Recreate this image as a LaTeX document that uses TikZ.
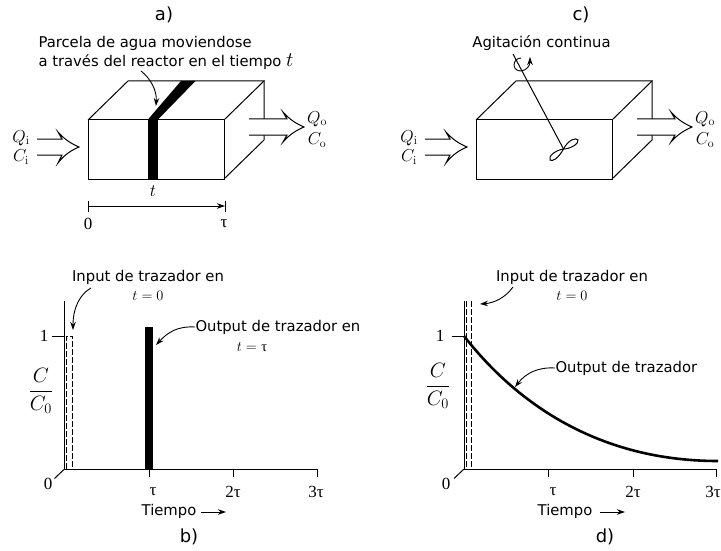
\documentclass[tikz,border=0pt]{standalone}
\usepackage{amsmath}
\usepackage[no-math]{fontspec}
\setmainfont{DejaVu Sans}
\newfontfamily\taufont{Liberation Serif}
\usepackage{tikz}
\usetikzlibrary{arrows.meta,positioning}
\newcommand{\tauup}{{\taufont τ}}
\begin{document}
\begin{tikzpicture}[x=1pt,y=-1pt,
line width=1pt,
lbl/.style={font=\fontsize{14.8}{19}\selectfont,inner sep=0pt,align=center},
mth/.style={font=\fontsize{17.28}{19}\selectfont,inner sep=0pt},
eqn/.style={font=\fontsize{14.4}{19}\selectfont,inner sep=0pt},
num/.style={font=\taufont\fontsize{17}{19}\selectfont,inner sep=0pt},
panel/.style={font=\fontsize{18}{20}\selectfont,inner sep=0pt},
ratio/.style={font=\fontsize{20.74}{24}\selectfont,inner sep=0pt},
arr/.style={-{Stealth[length=8pt,width=5.5pt]},line width=0.9pt},
flow/.style={draw,fill=white,line join=miter}
]
\useasboundingbox (0,0) rectangle (721,551);
\node[panel] (la) at (164,15) {a)};
\node[panel] (lb) at (189,537) {b)};
\node[panel] (lc) at (581,15) {c)};
\node[panel] (ld) at (605,537) {d)};
% reactor boxes
\foreach \dx/\nm in {0/a,388/c}{
\begin{scope}[xshift=\dx pt]
\draw (88,120) rectangle (224,179);
\draw (88,120) -- (128,81) -- (264,81) -- (224,120);
\draw (264,81) -- (264,140) -- (224,179);
\draw[flow] (249,119) -- (287,119) -- (283,112) .. controls (290,120) and (297,124) .. (304,127) .. controls (297,130) and (290,134) .. (283,142) -- (287,135) -- (249,135);
\draw[flow] (37,139) -- (62,139) -- (58,132) .. controls (65,140) and (72,144) .. (79,147) .. controls (72,150) and (65,154) .. (58,163) -- (62,155) -- (37,155);
\node[mth] (Qi\nm) at (21,138) {$Q_{\mathrm{i}}$};
\node[mth] (Ci\nm) at (21,157) {$C_{\mathrm{i}}$};
\node[mth] (Qo\nm) at (317,119) {$Q_{\mathrm{o}}$};
\node[mth] (Co\nm) at (317,140) {$C_{\mathrm{o}}$};
\end{scope}
}
% plug of water
\fill (147.5,120) -- (157.5,120) -- (195.5,81) -- (181,81) -- cycle;
\fill (147.5,120) rectangle (157.5,179);
\node[lbl,align=left,anchor=west] (parcela) at (38,52.5) {Parcela de agua moviendose\\a través del reactor en el tiempo {\fontsize{20.74}{19}\selectfont$t$}};
\coordinate (pfrom) at (141,71);
\coordinate (pto) at (156,106);
\draw[arr] (pfrom) .. controls (150,78) and (157,90) .. (pto);
\node[mth] (tt) at (153,191) {$t$};
\coordinate (s0) at (88,206);
\coordinate (s1) at (225,206);
\draw[arr] (s0) -- (s1);
\draw (88,200.5) -- (88,212);
\draw (225,200.5) -- (225,212);
\node[num] (s0l) at (88,224) {0};
\node[num] (s1l) at (224,224) {τ};
% stirrer
\node[lbl] (agit) at (541.5,43) {Agitación continua};
\coordinate (sh0) at (513,54);
\coordinate (sh1) at (563.5,149);
\draw (sh0) -- (sh1);
\draw (sh1) .. controls (568,140) and (576,137) .. (578,140) .. controls (579,144) and (570,149) .. (sh1);
\draw (sh1) .. controls (558,159) and (552,162) .. (550,160) .. controls (548,156) and (556,150) .. (sh1);
\draw[arr] (521,58) .. controls (513,58) and (511,70) .. (520,71) .. controls (527,71) and (530,65) .. (530,57);
% axes of both plots
\foreach \ox/\nm/\tx/\tb/\tc/\lone/\lzero in {64.5/b/153/233/316/44/48,464/d/553/633/713/440/446}{
\begin{scope}[xshift=\ox pt]
\draw (0,301) -- (0,469) -- (252.5,469);
\draw (-10,478.5) -- (0,469);
\draw (-12.5,336) -- (0,336);
\end{scope}
\node[num] (one\nm) at (\lone,336) {1};
\node[num] (zero\nm) at (\lzero,484) {0};
\node[num] (tau\nm) at (\tx,492) {τ};
\node[num] (twotau\nm) at (\tb,492) {2τ};
\node[num] (threetau\nm) at (\tc,492) {3τ};
}
\foreach \x in {149,233,317,548,633,716}{\draw (\x,469) -- (\x,477);}
\node[ratio] (ratiob) at (41,391) {$\dfrac{C}{C_0}$};
\node[ratio] (ratiod) at (438,386) {$\dfrac{C}{C_0}$};
\node[lbl] (tiempob) at (169,511.5) {Tiempo};
\draw[arr] (201,512) -- (226,512);
\node[lbl] (tiempod) at (565,511) {Tiempo};
\draw[arr] (600,512) -- (625,512);
% plot b
\draw[dashed,dash pattern=on 6pt off 2pt] (66.5,469) -- (66.5,336) -- (72.5,336) -- (72.5,469);
\fill (145,327) rectangle (152.5,469);
\node[lbl] (inb) at (148,285) {Input de trazador en\\{\fontsize{14.4}{19}\selectfont$t=0$}};
\coordinate (ibf) at (91,288);
\coordinate (ibt) at (73,330);
\draw[arr] (ibf) .. controls (80,294) and (73,308) .. (ibt);
\node[lbl,anchor=west] (outb) at (195,327) {Output de trazador en};
\node[eqn] (outbt) at (252,347) {$t=$ \tauup};
\coordinate (obt) at (156,345);
\draw[arr] (outb.west) .. controls (178,326) and (168,332) .. (obt);
% plot d
\draw[dashed,dash pattern=on 6pt off 2pt] (466,301) -- (466,469);
\draw[dashed,dash pattern=on 6pt off 2pt] (471.5,301) -- (471.5,469);
\draw[line width=2.6pt] (464,336) .. controls (510,395) and (590,461) .. (718,461);
\node[lbl] (ind) at (572,285) {Input de trazador en\\{\fontsize{14.4}{19}\selectfont$t=0$}};
\coordinate (idf) at (513,287);
\coordinate (idt) at (480,304);
\draw[arr] (idf) .. controls (505,298) and (494,303) .. (idt);
\node[lbl,anchor=west] (outd) at (555,368) {Output de trazador};
\coordinate (odt) at (515,387);
\draw[arr] (outd.west) .. controls (538,367) and (526,373) .. (odt);
\end{tikzpicture}
\end{document}
